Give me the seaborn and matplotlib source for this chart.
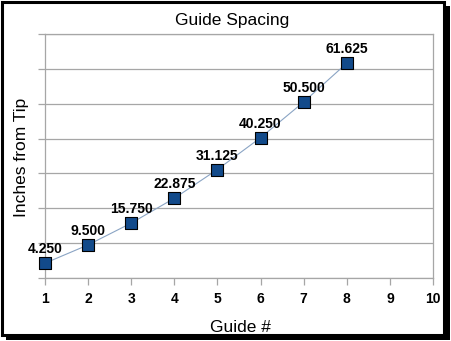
import matplotlib
matplotlib.use("Agg")
import matplotlib.pyplot as plt
import seaborn as sns
import pandas as pd
from matplotlib.patches import Rectangle

guides = [1, 2, 3, 4, 5, 6, 7, 8]
inches = [4.250, 9.500, 15.750, 22.875, 31.125, 40.250, 50.500, 61.625]
labels = ["4.250", "9.500", "15.750", "22.875", "31.125", "40.250", "50.500", "61.625"]
x_ticks = [1, 2, 3, 4, 5, 6, 7, 8, 9, 10]
y_ticks = [0, 10, 20, 30, 40, 50, 60, 70]

df = pd.DataFrame({"Guide #": guides, "Inches from Tip": inches})

sns.set_theme(style="white")
plt.rcParams["font.family"] = ["Liberation Sans", "DejaVu Sans"]
plt.rcParams["text.color"] = "black"
plt.rcParams["xtick.color"] = "black"
plt.rcParams["ytick.color"] = "black"

W, H = 452, 341
fig = plt.figure(figsize=(W / 100, H / 100), dpi=100)
fig.patch.set_facecolor("white")

# outer frame with shadow
fig.patches.append(Rectangle((6 / W, 1 - 340 / H), 444 / W, 334 / H, transform=fig.transFigure,
                             facecolor="black", edgecolor="none", zorder=0))
fig.patches.append(Rectangle((2 / W, 1 - 335 / H), 442 / W, 333 / H, transform=fig.transFigure,
                             facecolor="white", edgecolor="black", linewidth=2.2, zorder=1))

ax = fig.add_axes([45 / W, 1 - 278 / H, (433 - 45) / W, (278 - 34) / H])
ax.set_zorder(2)
ax.set_facecolor("white")

sns.lineplot(data=df, x="Guide #", y="Inches from Tip", ax=ax, color="#8AA4C4",
             linewidth=0.8, zorder=3)
sns.scatterplot(data=df, x="Guide #", y="Inches from Tip", ax=ax, marker="s", s=64,
                color="#124A8A", edgecolor="black", linewidth=0.8, zorder=4, clip_on=False)

for xv, yv, lb in zip(guides, inches, labels):
    ax.annotate(lb, (xv, yv), xytext=(0, 5), textcoords="offset points", ha="center",
                va="bottom", fontsize=10, fontweight="bold", color="black", zorder=5)

ax.set_xlim(1, 10)
ax.set_ylim(0, 70)
ax.set_xticks(x_ticks)
ax.set_yticks(y_ticks)
ax.set_yticklabels([])
ax.set_xticklabels([str(t) for t in x_ticks], fontsize=10, fontweight="bold", color="black")
ax.yaxis.grid(True, color="#A6A6A6", linewidth=0.9)
ax.xaxis.grid(False)
ax.tick_params(axis="both", which="both", direction="out", length=5, width=0.9,
               color="#A6A6A6", labelcolor="black", left=True, bottom=True, pad=5)
for side in ["left", "bottom", "right", "top"]:
    ax.spines[side].set_visible(True)
    ax.spines[side].set_color("#A6A6A6")
    ax.spines[side].set_linewidth(0.9)

ax.set_xlabel("")
ax.set_ylabel("")
fig.text(232 / W, 1 - 21 / H, "Guide Spacing", fontsize=12.5, ha="center", va="center",
         color="black")
fig.text(240 / W, 1 - 328 / H, "Guide #", fontsize=12.5, ha="center", va="center",
         color="black")
fig.text(22 / W, 1 - 157 / H, "Inches from Tip", fontsize=12.5, ha="center", va="center",
         rotation=90, color="black")

fig.savefig("out.png", dpi=100, facecolor="white")
